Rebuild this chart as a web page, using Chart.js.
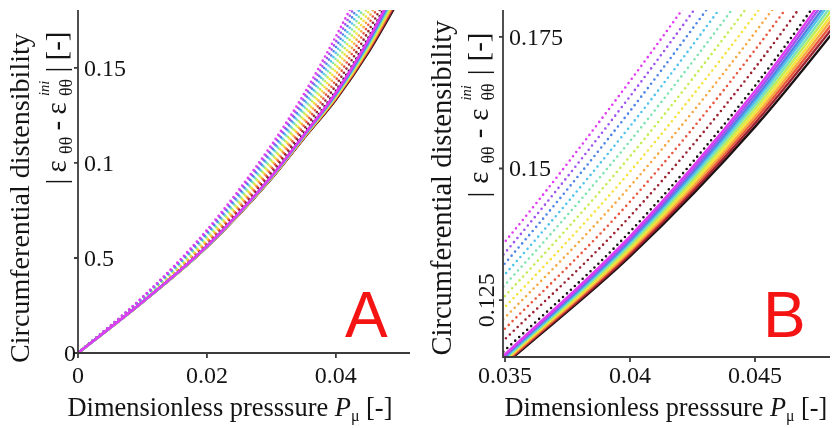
<!DOCTYPE html>
<html>
<head>
<meta charset="utf-8">
<script src="https://cdn.jsdelivr.net/npm/chart.js@4.4.1/dist/chart.umd.min.js"></script>
<style>
    html, body { margin: 0; padding: 0; background: #fff; }
    #wrap { position: relative; width: 834px; height: 428px; overflow: hidden; }
    canvas { position: absolute; top: 0; }
</style>
</head>
<body>
<div id="wrap">
    <canvas id="chartA" width="417" height="428" style="left:0"></canvas>
    <canvas id="chartB" width="417" height="428" style="left:417px"></canvas>
</div>
<script>
// Dimensionless pressure (x) shared by every curve
const pressure = [0, 0.01, 0.02, 0.03, 0.035, 0.04, 0.045, 0.05];

// Solid curves, magenta -> black
const solidMagenta = [0, 0.0269, 0.0563, 0.0930, 0.1147, 0.1371, 0.1647, 0.1975];
const solidViolet  = [0, 0.0269, 0.0562, 0.0929, 0.1145, 0.1367, 0.1640, 0.1965];
const solidBlue    = [0, 0.0269, 0.0562, 0.0927, 0.1143, 0.1363, 0.1633, 0.1954];
const solidCyan    = [0, 0.0268, 0.0561, 0.0926, 0.1141, 0.1360, 0.1627, 0.1944];
const solidGreen   = [0, 0.0268, 0.0561, 0.0925, 0.1139, 0.1356, 0.1620, 0.1933];
const solidLime    = [0, 0.0268, 0.0560, 0.0924, 0.1138, 0.1352, 0.1613, 0.1923];
const solidYellow  = [0, 0.0268, 0.0559, 0.0922, 0.1136, 0.1348, 0.1606, 0.1912];
const solidOrange  = [0, 0.0268, 0.0559, 0.0921, 0.1134, 0.1344, 0.1599, 0.1902];
const solidRed     = [0, 0.0267, 0.0558, 0.0920, 0.1132, 0.1341, 0.1593, 0.1891];
const solidDarkRed = [0, 0.0267, 0.0558, 0.0918, 0.1130, 0.1337, 0.1586, 0.1881];
const solidBlack   = [0, 0.0267, 0.0557, 0.0917, 0.1128, 0.1333, 0.1579, 0.1870];

// Dotted curves, magenta -> black
const dottedMagenta = [0, 0.0294, 0.0648, 0.1095, 0.1361, 0.1666, 0.1995, 0.2325];
const dottedViolet  = [0, 0.0292, 0.0640, 0.1079, 0.1340, 0.1637, 0.1961, 0.2291];
const dottedBlue    = [0, 0.0290, 0.0632, 0.1063, 0.1320, 0.1609, 0.1927, 0.2257];
const dottedCyan    = [0, 0.0287, 0.0624, 0.1048, 0.1299, 0.1580, 0.1894, 0.2223];
const dottedGreen   = [0, 0.0285, 0.0616, 0.1032, 0.1279, 0.1552, 0.1860, 0.2189];
const dottedLime    = [0, 0.0283, 0.0608, 0.1016, 0.1258, 0.1523, 0.1826, 0.2155];
const dottedYellow  = [0, 0.0281, 0.0600, 0.1000, 0.1237, 0.1494, 0.1792, 0.2122];
const dottedOrange  = [0, 0.0279, 0.0592, 0.0984, 0.1217, 0.1466, 0.1758, 0.2088];
const dottedRed     = [0, 0.0276, 0.0584, 0.0969, 0.1196, 0.1437, 0.1725, 0.2054];
const dottedDarkRed = [0, 0.0274, 0.0576, 0.0953, 0.1176, 0.1409, 0.1691, 0.2020];
const dottedBlack   = [0, 0.0272, 0.0568, 0.0937, 0.1155, 0.1380, 0.1657, 0.1986];

// Tick values and labels
const xTicksA = [0, 0.02, 0.04];
const xTickLabelsA = ['0', '0.02', '0.04'];
const yTicksA = [0, 0.05, 0.1, 0.15];
const yTickLabelsA = ['0', '0.5', '0.1', '0.15'];
const xTicksB = [0.035, 0.04, 0.045];
const xTickLabelsB = ['0.035', '0.04', '0.045'];
const yTicksB = [0.125, 0.15, 0.175];
const yTickLabelsB = ['0.125', '0.15', '0.175'];

const solidSeries = [solidMagenta, solidViolet, solidBlue, solidCyan, solidGreen, solidLime,
    solidYellow, solidOrange, solidRed, solidDarkRed, solidBlack];
const dottedSeries = [dottedMagenta, dottedViolet, dottedBlue, dottedCyan, dottedGreen, dottedLime,
    dottedYellow, dottedOrange, dottedRed, dottedDarkRed, dottedBlack];

const lineColors = ['#e23cf2', '#9f55ee', '#4f86e6', '#52c4ec', '#7fe3b0', '#c4ec50',
    '#f6e23c', '#f7a844', '#e8573e', '#9b2230', '#1b1212'];

const AXIS_COLOR = '#3c3c3c';
const TEXT_COLOR = '#141414';
const SERIF = '"Liberation Serif", "Times New Roman", serif';

const yTitleTop = [{ t: 'Circumferential distensibility' }];
const yTitleBottom = [
    { t: '|' },
    { t: 'ε' },
    { t: 'θθ', scale: 0.62, dy: 0.2 },
    { t: '-' },
    { t: 'ε' },
    { t: 'ini', scale: 0.5, dy: -0.6, italic: true, stack: true },
    { t: 'θθ', scale: 0.62, dy: 0.2 },
    { t: '|' },
    { t: '[-]' }
];
const xTitle = [
    { t: 'Dimensionless presssure ' },
    { t: 'P', italic: true },
    { t: 'μ', scale: 0.6, dy: 0.2 },
    { t: ' [-]' }
];

function runFont(r, size) {
    return (r.italic ? 'italic ' : '') + (size * (r.scale || 1)).toFixed(2) + 'px ' + SERIF;
}

function measureRuns(ctx, runs, size) {
    let w = 0;
    runs.forEach(r => {
        ctx.font = runFont(r, size);
        if (!r.stack) w += ctx.measureText(r.t).width;
    });
    return w;
}

// Draws rich text centred on the current origin.
// fit: 'scale' grows the font to the length, 'spread' keeps the font and adds gaps
function drawRuns(ctx, runs, size, targetLen, fit) {
    const natural = measureRuns(ctx, runs, size);
    let s = size, gap = 0;
    if (fit === 'scale') {
        s = size * targetLen / natural;
    } else {
        const n = runs.filter(r => !r.stack).length;
        gap = Math.max(0, (targetLen - natural) / (n - 1));
    }
    let x = -targetLen / 2;
    ctx.textAlign = 'left';
    ctx.textBaseline = 'alphabetic';
    runs.forEach(r => {
        ctx.font = runFont(r, s);
        ctx.fillText(r.t, x, (r.dy || 0) * s);
        if (!r.stack) x += ctx.measureText(r.t).width + gap;
    });
}

const framePlugin = {
    id: 'frame',
    afterDraw(chart, args, o) {
        const ctx = chart.ctx, a = chart.chartArea;
        const xs = chart.scales.x, ys = chart.scales.y;
        ctx.save();

        // axis lines and tick marks
        ctx.strokeStyle = AXIS_COLOR;
        ctx.lineWidth = 1.8;
        ctx.beginPath();
        ctx.moveTo(a.left, a.top);
        ctx.lineTo(a.left, a.bottom);
        ctx.lineTo(a.right, a.bottom);
        o.xTicks.forEach(v => {
            const p = xs.getPixelForValue(v);
            ctx.moveTo(p, a.bottom);
            ctx.lineTo(p, a.bottom + 5);
        });
        o.yTicks.forEach(v => {
            const p = ys.getPixelForValue(v);
            ctx.moveTo(a.left - 4, p);
            ctx.lineTo(a.left, p);
        });
        ctx.stroke();

        // tick labels
        ctx.fillStyle = TEXT_COLOR;
        ctx.font = '24px ' + SERIF;
        ctx.textBaseline = 'alphabetic';
        ctx.textAlign = 'center';
        o.xTicks.forEach((v, i) => ctx.fillText(o.xLabels[i], xs.getPixelForValue(v), 383));
        o.yTicks.forEach((v, i) => {
            const p = ys.getPixelForValue(v);
            const side = o.yLabelSide[i];
            if (side === 'rot') {
                ctx.save();
                ctx.translate(a.left - 9, p);
                ctx.rotate(-Math.PI / 2);
                ctx.textAlign = 'center';
                ctx.fillText(o.yLabels[i], 0, 0);
                ctx.restore();
            } else if (side === 'out') {
                ctx.textAlign = 'right';
                ctx.fillText(o.yLabels[i], a.left - 2, p + 8);
            } else {
                ctx.textAlign = 'left';
                ctx.fillText(o.yLabels[i], a.left + 6, p + 8);
            }
        });

        // y titles (rotated)
        ctx.save();
        ctx.translate(o.title1.x, o.title1.y);
        ctx.rotate(-Math.PI / 2);
        drawRuns(ctx, yTitleTop, 28, o.title1.len, 'scale');
        ctx.restore();

        ctx.save();
        ctx.translate(o.title2.x, o.title2.y);
        ctx.rotate(-Math.PI / 2);
        drawRuns(ctx, yTitleBottom, 29, o.title2.len, 'spread');
        ctx.restore();

        // x title
        ctx.save();
        ctx.translate(o.xTitlePos.x, o.xTitlePos.y);
        drawRuns(ctx, xTitle, 26, o.xTitlePos.len, 'scale');
        ctx.restore();

        // panel letter
        ctx.fillStyle = '#f51414';
        ctx.font = '64px "Liberation Sans", Arial, sans-serif';
        ctx.textAlign = 'left';
        ctx.fillText(o.letter, o.letterX, 337);

        ctx.restore();
    }
};

function buildDatasets(dotGap) {
    const sets = [];
    solidSeries.forEach((vals, k) => {
        sets.push({
            data: pressure.map((x, i) => ({ x: x, y: vals[i] })),
            borderColor: lineColors[k],
            borderWidth: 2.4,
            pointRadius: 0,
            fill: false,
            cubicInterpolationMode: 'monotone',
            clip: 0
        });
    });
    dottedSeries.forEach((vals, k) => {
        sets.push({
            data: pressure.map((x, i) => ({ x: x, y: vals[i] })),
            borderColor: lineColors[k],
            borderWidth: 2.6,
            borderDash: [0, dotGap],
            borderCapStyle: 'round',
            pointRadius: 0,
            fill: false,
            cubicInterpolationMode: 'monotone',
            clip: 0
        });
    });
    return sets;
}

function makeChart(id, xMin, xMax, yMin, yMax, dotGap, padding, frame) {
    return new Chart(document.getElementById(id), {
        type: 'line',
        data: { datasets: buildDatasets(dotGap) },
        options: {
            responsive: false,
            animation: false,
            events: [],
            layout: { padding: padding },
            plugins: {
                legend: { display: false },
                tooltip: { enabled: false },
                frame: frame
            },
            scales: {
                x: { type: 'linear', min: xMin, max: xMax, display: false },
                y: { type: 'linear', min: yMin, max: yMax, display: false }
            }
        },
        plugins: [framePlugin]
    });
}

makeChart('chartA', 0, 0.0515, 0, 0.1805, 4.8,
    { left: 78, right: 7, top: 10, bottom: 75 },
    {
        xTicks: xTicksA, xLabels: xTickLabelsA,
        yTicks: yTicksA, yLabels: yTickLabelsA, yLabelSide: ['out', 'in', 'in', 'in'],
        title1: { x: 29, y: 198, len: 330 },
        title2: { x: 66, y: 108, len: 153 },
        xTitlePos: { x: 230, y: 416, len: 325 },
        letter: 'A', letterX: 345
    });

makeChart('chartB', 0.03492, 0.048, 0.1142, 0.1801, 5.4,
    { left: 86, right: 4, top: 10, bottom: 71 },
    {
        xTicks: xTicksB, xLabels: xTickLabelsB,
        yTicks: yTicksB, yLabels: yTickLabelsB, yLabelSide: ['rot', 'in', 'in'],
        title1: { x: 34, y: 188, len: 335 },
        title2: { x: 71, y: 115, len: 165 },
        xTitlePos: { x: 249, y: 416, len: 323 },
        letter: 'B', letterX: 346
    });
</script>
</body>
</html>
